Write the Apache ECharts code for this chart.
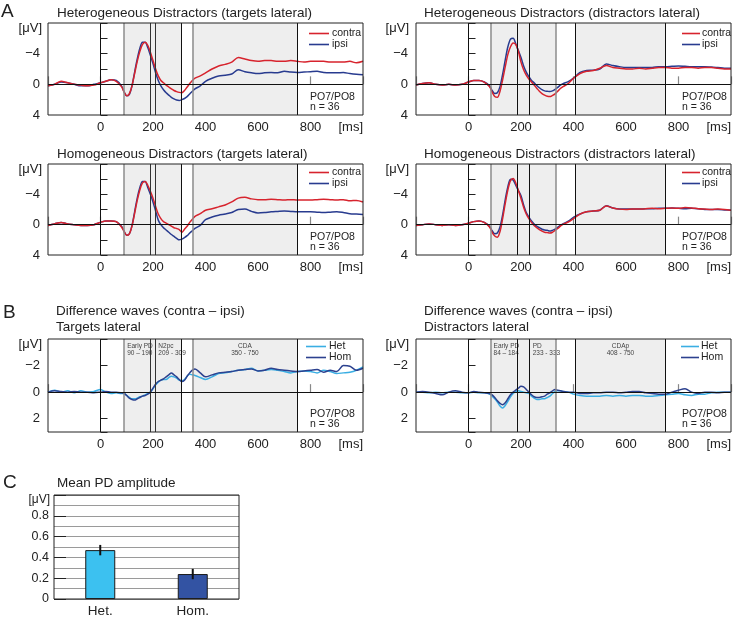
<!DOCTYPE html>
<html><head><meta charset="utf-8">
<script src="https://cdn.jsdelivr.net/npm/echarts@6/dist/echarts.min.js"></script>
<style>html,body{margin:0;padding:0;background:#fff}#c{width:734px;height:618px}</style>
</head><body><div id="c"></div>
<script>
const FONT = '"Liberation Sans", Arial, sans-serif';

// ---- time base (ms) ----
const times = [-200,-175,-150,-125,-100,-75,-50,-25,
  0,20,40,60,80,
  90,100,110,120,130,140,150,160,170,180,190,200,210,220,230,240,250,260,270,280,290,300,310,320,330,340,350,360,
  380,400,
  425,450,475,500,525,550,575,600,625,650,675,700,725,750,775,800,825,850,875,900,925,950,975,1000];

// ---- A: Heterogeneous, targets lateral ----
const hetTargContra = [0.2,0.0,-0.4,-0.2,0.0,0.1,0.2,0.1,
  -0.2,-0.4,-0.6,-0.4,0.3,
  1.0,1.5,1.2,0.2,-1.4,-3.0,-4.3,-5.2,-5.5,-5.1,-4.2,-3.1,-2.0,-1.1,-0.5,-0.2,0.1,0.35,0.6,0.8,0.95,1.05,1.1,0.8,0.35,-0.1,-0.5,-0.8,
  -1.1,-1.5,
  -2.0,-2.4,-2.6,-2.9,-3.5,-3.3,-3.1,-3.0,-3.1,-3.1,-3.0,-3.0,-3.1,-3.0,-2.9,-3.0,-3.0,-3.0,-2.9,-2.9,-2.9,-3.0,-2.8,-3.0];
const hetTargIpsi = [0.2,0.0,-0.3,-0.2,0.0,0.2,0.2,0.0,
  -0.2,-0.4,-0.6,-0.5,0.2,
  1.0,1.5,1.3,0.2,-1.6,-3.3,-4.7,-5.5,-5.5,-4.8,-3.8,-2.7,-1.5,-0.5,0.2,0.7,1.1,1.4,1.7,1.9,2.05,2.1,2.0,1.85,1.6,1.25,0.9,0.6,
  0.2,-0.4,
  -0.8,-1.1,-1.2,-1.35,-1.9,-1.65,-1.5,-1.4,-1.5,-1.55,-1.5,-1.7,-1.6,-1.55,-1.6,-1.65,-1.7,-1.55,-1.5,-1.5,-1.55,-1.4,-1.3,-1.25];

// ---- A: Heterogeneous, distractors lateral ----
const hetDistContra = [0.1,-0.1,-0.2,0.0,0.1,0.0,0.1,0.0,
  -0.3,-0.5,-0.5,-0.3,0.3,
  1.0,1.6,1.7,0.9,-0.6,-2.3,-3.9,-4.9,-5.4,-5.2,-4.3,-2.9,-1.9,-1.2,-0.7,-0.3,0.1,0.5,0.9,1.2,1.4,1.55,1.6,1.45,1.25,0.9,0.55,0.3,
  -0.1,-0.8,
  -1.4,-1.7,-1.8,-2.1,-2.45,-2.2,-2.1,-2.0,-2.0,-2.1,-2.0,-2.1,-2.2,-2.2,-2.1,-2.1,-2.2,-2.2,-2.1,-2.2,-2.2,-2.1,-2.0,-2.0];
const hetDistIpsi = [0.1,-0.1,-0.2,0.0,0.1,0.0,0.1,0.0,
  -0.3,-0.5,-0.5,-0.3,0.2,
  0.8,1.2,1.1,0.3,-1.3,-3.2,-4.9,-5.9,-6.0,-5.3,-4.4,-3.5,-2.4,-1.6,-1.0,-0.5,-0.2,0.15,0.45,0.7,0.85,0.9,0.95,0.85,0.65,0.4,0.1,-0.1,
  -0.35,-0.8,
  -1.55,-1.8,-1.85,-2.0,-2.65,-2.45,-2.3,-2.2,-2.2,-2.2,-2.2,-2.2,-2.3,-2.3,-2.35,-2.4,-2.35,-2.3,-2.3,-2.3,-2.25,-2.2,-2.1,-2.1];

// ---- A: Homogeneous, targets lateral ----
const homTargContra = [0.1,-0.1,-0.3,-0.1,0.0,0.1,0.1,0.0,
  -0.3,-0.5,-0.5,-0.4,0.3,
  0.9,1.4,1.2,0.2,-1.5,-3.2,-4.6,-5.5,-5.7,-5.2,-4.4,-3.5,-2.4,-1.4,-0.8,-0.4,-0.2,0.0,0.2,0.4,0.5,0.65,1.0,0.6,0.2,-0.3,-0.7,-1.1,
  -1.45,-1.9,
  -2.1,-2.35,-2.6,-3.0,-3.5,-3.6,-3.4,-3.3,-3.3,-3.35,-3.3,-3.25,-3.3,-3.25,-3.25,-3.25,-3.3,-3.35,-3.3,-3.25,-3.3,-3.15,-3.2,-3.0];
const homTargIpsi = [0.1,-0.1,-0.3,-0.1,0.0,0.1,0.1,0.0,
  -0.3,-0.5,-0.5,-0.4,0.2,
  0.9,1.4,1.2,0.1,-1.7,-3.5,-4.9,-5.7,-5.7,-4.9,-4.0,-3.0,-1.8,-0.6,0.0,0.4,0.7,1.0,1.3,1.55,1.8,2.0,1.9,1.7,1.45,1.1,0.8,0.5,
  0.1,-0.65,
  -1.0,-1.25,-1.4,-1.6,-2.0,-2.05,-1.75,-1.55,-1.6,-1.7,-1.75,-1.8,-1.75,-1.7,-1.7,-1.7,-1.65,-1.6,-1.65,-1.7,-1.6,-1.45,-1.4,-1.35];

// ---- A: Homogeneous, distractors lateral ----
const homDistContra = [0.1,0.0,-0.1,0.0,0.1,0.0,0.1,0.0,
  -0.2,-0.4,-0.5,-0.3,0.3,
  1.0,1.5,1.65,0.9,-0.8,-2.8,-4.6,-5.8,-6.1,-5.5,-4.5,-3.45,-2.3,-1.4,-0.8,-0.3,0.1,0.4,0.65,0.85,1.0,1.05,1.1,1.0,0.75,0.5,0.2,-0.05,
  -0.35,-0.8,
  -1.4,-1.7,-1.8,-1.9,-2.45,-2.2,-2.05,-2.0,-2.05,-2.05,-2.1,-2.15,-2.1,-2.15,-2.2,-2.15,-2.25,-2.2,-2.1,-2.05,-2.0,-2.05,-2.0,-1.9];
const homDistIpsi = [0.1,0.0,-0.1,0.0,0.1,0.0,0.1,0.0,
  -0.2,-0.4,-0.5,-0.3,0.2,
  0.8,1.2,1.1,0.3,-1.3,-3.3,-5.0,-6.0,-5.9,-5.2,-4.5,-3.8,-2.6,-1.6,-1.0,-0.5,-0.1,0.2,0.4,0.6,0.7,0.75,0.85,0.75,0.6,0.35,0.1,-0.1,
  -0.45,-0.95,
  -1.4,-1.7,-1.8,-1.9,-2.5,-2.2,-2.05,-2.05,-2.05,-2.05,-2.1,-2.1,-2.15,-2.15,-2.2,-2.15,-2.1,-2.15,-2.1,-2.0,-2.0,-2.0,-1.95,-1.9];

// ---- B: difference waves, targets lateral ----
const diffTargHet = [0.0,-0.15,0.0,-0.1,0.05,-0.1,0.0,-0.05,
  -0.2,0.0,0.1,0.05,0.1,
  0.1,0.25,0.4,0.5,0.5,0.45,0.35,0.3,0.2,0.1,0.0,-0.25,-0.55,-0.75,-0.9,-0.95,-0.95,-1.1,-1.2,-1.15,-1.05,-0.9,-0.85,-0.95,-1.2,-1.35,-1.3,-1.25,
  -1.1,-0.95,
  -1.15,-1.4,-1.45,-1.55,-1.65,-1.7,-1.8,-1.6,-1.65,-1.7,-1.65,-1.55,-1.45,-1.55,-1.6,-1.55,-1.45,-1.65,-1.55,-1.4,-1.45,-1.5,-1.65,-1.9];
const diffTargHom = [0.0,-0.1,-0.05,0.0,-0.05,0.0,0.0,0.05,
  0.0,-0.05,0.0,0.0,0.05,
  0.1,0.25,0.45,0.55,0.6,0.5,0.4,0.3,0.25,0.15,0.0,-0.3,-0.6,-0.8,-0.9,-1.0,-1.15,-1.3,-1.45,-1.3,-1.15,-0.95,-0.8,-0.9,-1.2,-1.45,-1.65,-1.75,
  -1.45,-1.15,
  -1.3,-1.45,-1.5,-1.55,-1.65,-1.7,-1.75,-1.6,-1.65,-1.8,-1.7,-1.65,-1.6,-1.55,-1.6,-1.65,-1.7,-1.5,-1.65,-1.55,-2.0,-1.95,-1.65,-1.8];

// ---- B: difference waves, distractors lateral ----
const diffDistHet = [0.0,0.0,0.05,0.0,0.05,0.0,0.0,0.05,
  0.05,0.0,0.05,0.05,0.15,
  0.3,0.5,0.75,1.05,1.2,1.0,0.7,0.35,0.1,-0.05,-0.1,-0.05,0.0,0.05,0.1,0.3,0.45,0.55,0.55,0.5,0.5,0.4,0.3,0.1,-0.05,-0.1,-0.1,-0.05,
  0.0,0.15,
  0.25,0.3,0.3,0.3,0.25,0.3,0.25,0.3,0.25,0.25,0.3,0.3,0.25,0.2,0.15,0.1,0.2,0.25,0.15,0.15,0.05,0.0,0.0,0.0];
const diffDistHom = [0.0,-0.05,0.0,0.1,0.2,0.0,-0.1,0.0,
  0.05,-0.05,0.0,0.05,0.1,
  0.2,0.4,0.65,0.85,0.95,0.8,0.5,0.2,0.0,-0.15,-0.3,-0.45,-0.4,-0.2,0.0,0.2,0.35,0.4,0.4,0.35,0.3,0.15,0.05,-0.1,-0.2,-0.15,-0.1,-0.05,
  0.0,0.0,
  0.1,0.1,0.05,0.05,0.0,0.0,0.05,0.0,-0.05,-0.05,0.05,0.1,0.15,0.15,0.0,-0.15,-0.25,0.0,0.1,0.0,0.0,0.05,0.0,0.0];

// ---- C: mean PD amplitude ----
const barCategories = ['Het.', 'Hom.'];
const barMeans = [0.47, 0.24];
const barErrLow = [0.42, 0.19];
const barErrHigh = [0.52, 0.29];

// ---- tick labels / window annotations ----
const waveTicksX = [0, 200, 400, 600, 800];
const targetsWindows = [[90, 190, 'Early PD\n90 – 190', 'insideTopLeft'], [209, 309, 'N2pc\n209 - 309', 'insideTopLeft'], [350, 750, 'CDA\n350 - 750', 'insideTop']];
const distractWindows = [[84, 184, 'Early PD\n84 – 184', 'insideTopLeft'], [233, 333, 'PD\n233 - 333', 'insideTopLeft'], [408, 750, 'CDAp\n408 - 750', 'insideTop']];
const targetsLines = [[0,'#111',1],[90,'#8c8c8c',1.5],[190,'#333',1],[209,'#333',1],[309,'#111',1],[350,'#8c8c8c',1.5],[750,'#111',1]];
const distractLines = [[0,'#111',1],[84,'#8c8c8c',1.5],[184,'#111',1],[233,'#111',1],[333,'#8c8c8c',1.5],[408,'#111',1],[750,'#111',1]];

// ---- layout ----
const grids = [
  {left:48, top:23, width:315, height:92},
  {left:416, top:23, width:315, height:92},
  {left:48, top:164, width:315, height:91},
  {left:416, top:164, width:315, height:91},
  {left:48, top:339, width:315, height:93},
  {left:416, top:339, width:315, height:93},
  {left:54, top:495, width:185, height:107}
];
const RED = '#d7232d', NAVY = '#283b8f', LIGHT = '#3aaee3', DARK = '#2c418f';

const minus = v => (v < 0 ? '\u2212' + Math.abs(v) : String(v));

const xAxes = [], yAxes = [], series = [];
for (let i = 0; i < 6; i++) {
  xAxes.push({
    type:'value', gridIndex:i, min:-200, max:1000, interval:200,
    axisLine:{show:false}, splitLine:{show:false},
    axisTick:{show:true, inside:true, length:8, lineStyle:{color:'#888', width:1.2}},
    axisLabel:{fontFamily:FONT, fontSize:13, color:'#222', margin:6, showMaxLabel:true, showMinLabel:true, alignMaxLabel:'right',
      formatter: v => v === 1000 ? '[ms]' : (waveTicksX.indexOf(v) >= 0 ? String(v) : '')}
  });
  const isB = i >= 4;
  yAxes.push({
    type:'value', gridIndex:i, inverse:true,
    min: isB ? -4 : -8, max: isB ? 3 : 4, interval:2,
    axisLine:{show:false}, splitLine:{show:false},
    axisTick:{show:true, inside:true, length:7, lineStyle:{color:'#222'}},
    axisLabel:{fontFamily:FONT, fontSize:13, color:'#222', margin:8, showMaxLabel:true, showMinLabel:true,
      formatter: v => {
        const shown = isB ? [-2,0,2] : [-4,0,4];
        return shown.indexOf(v) >= 0 ? minus(v) : '';
      }}
  });
}
// C axes
xAxes.push({type:'category', gridIndex:6, data:barCategories, axisLine:{show:false}, axisTick:{show:false},
  axisLabel:{fontFamily:FONT, fontSize:13.5, color:'#222', margin:5}});
yAxes.push({type:'value', gridIndex:6, min:0, max:1, interval:0.2,
  axisLine:{show:false},
  axisTick:{show:true, inside:true, length:12, lineStyle:{color:'#222'}},
  splitLine:{show:true, lineStyle:{color:'#9a9a9a'}},
  minorTick:{show:false, splitNumber:2},
  minorSplitLine:{show:true, lineStyle:{color:'#9a9a9a'}},
  axisLabel:{fontFamily:FONT, fontSize:12.5, color:'#222', margin:5, showMaxLabel:true,
    formatter: v => v >= 0.99 ? '' : (v === 0 ? '0' : v.toFixed(1))}});

function decor(gi, lines, windows, withLabels) {
  const areas = windows.map(w => [{xAxis:w[0], label:{show:withLabels, formatter:w[2], position:w[3]}}, {xAxis:w[1]}]);
  // narrow gap between early windows is shaded too
  areas.push([{xAxis:windows[0][1], label:{show:false}}, {xAxis:windows[1][0]}]);
  const ml = lines.map(l => ({xAxis:l[0], lineStyle:{color:l[1], width:l[2], type:'solid'}}));
  ml.push({yAxis:0, lineStyle:{color:'#111', width:1, type:'solid'}});
  return {
    type:'line', name:'_decor'+gi, xAxisIndex:gi, yAxisIndex:gi, data:[], z:1, silent:true, animation:false,
    markArea:{silent:true, itemStyle:{color:'#eeeeee'},
      label:{fontFamily:FONT, fontSize:6.5, lineHeight:7.5, color:'#444', distance:3}, data:areas},
    markLine:{silent:true, symbol:['none','none'], label:{show:false}, data:ml, animation:false}
  };
}
function wave(name, gi, vals, color) {
  return {type:'line', name, xAxisIndex:gi, yAxisIndex:gi, data: times.map((t, k) => [t, vals[k]]),
    smooth:0.3, symbol:'none', showSymbol:false, lineStyle:{color, width:1.5}, itemStyle:{color}, z:3, animation:false};
}

series.push(decor(0, targetsLines, targetsWindows, false));
series.push(decor(1, distractLines, distractWindows, false));
series.push(decor(2, targetsLines, targetsWindows, false));
series.push(decor(3, distractLines, distractWindows, false));
series.push(decor(4, targetsLines, targetsWindows, true));
series.push(decor(5, distractLines, distractWindows, true));

series.push(wave('ipsi', 0, hetTargIpsi, NAVY), wave('contra', 0, hetTargContra, RED));
series.push(wave('ipsi', 1, hetDistIpsi, NAVY), wave('contra', 1, hetDistContra, RED));
series.push(wave('ipsi', 2, homTargIpsi, NAVY), wave('contra', 2, homTargContra, RED));
series.push(wave('ipsi', 3, homDistIpsi, NAVY), wave('contra', 3, homDistContra, RED));
series.push(wave('Het', 4, diffTargHet, LIGHT), wave('Hom', 4, diffTargHom, DARK));
series.push(wave('Het', 5, diffDistHet, LIGHT), wave('Hom', 5, diffDistHom, DARK));

series.push({type:'bar', name:'Mean PD', xAxisIndex:6, yAxisIndex:6, barWidth:30, z:3, animation:false,
  data: barMeans.map((v, k) => ({value:v, itemStyle:{color: k === 0 ? '#3cc1f0' : '#3353a3', borderColor:'#1a1a1a', borderWidth:1}}))});
series.push({type:'custom', name:'SE', xAxisIndex:6, yAxisIndex:6, z:4, animation:false,
  encode:{x:0, y:[1,2]},
  data: barCategories.map((c, k) => [k, barErrLow[k], barErrHigh[k]]),
  renderItem: (params, api) => {
    const a = api.coord([api.value(0), api.value(1)]);
    const b = api.coord([api.value(0), api.value(2)]);
    return {type:'line', shape:{x1:a[0], y1:a[1], x2:b[0], y2:b[1]}, style:{stroke:'#111', lineWidth:2}};
  }});

const legendBase = {orient:'vertical', icon:'rect', itemWidth:20, itemHeight:1.6, itemGap:0, padding:0, selectedMode:false,
  textStyle:{fontFamily:FONT, fontSize:10.5, color:'#222', lineHeight:11, padding:[0,0,0,-2]}};
const legendRight = {itemWidth:18, textStyle:{fontFamily:FONT, fontSize:10.5, color:'#222', lineHeight:11, padding:[0,0,0,-3]}};
const legends = [
  Object.assign({}, legendBase, {left:309, top:28, data:['contra','ipsi']}),
  Object.assign({}, legendBase, legendRight, {left:682, top:28, data:['contra','ipsi']}),
  Object.assign({}, legendBase, {left:309, top:167, data:['contra','ipsi']}),
  Object.assign({}, legendBase, legendRight, {left:682, top:167, data:['contra','ipsi']}),
  Object.assign({}, legendBase, {left:306, top:341, data:['Het','Hom']}),
  Object.assign({}, legendBase, legendRight, {left:681, top:341, data:['Het','Hom']})
];

function txt(x, y, text, size, extra) {
  return Object.assign({type:'text', x, y, silent:true,
    style:{text, fontFamily:FONT, fontSize:size, fill:'#222', textVerticalAlign:'middle', verticalAlign:'middle'}}, extra || {});
}
function txtR(x, y, text, size) {
  const t = txt(x, y, text, size); t.style.align = 'right'; t.style.textAlign = 'right'; return t;
}
const graphics = [
  txt(1, 12, 'A', 19), txt(3, 313, 'B', 19), txt(3, 483, 'C', 19),
  txt(57, 13, 'Heterogeneous Distractors (targets lateral)', 13.5),
  txt(424, 13, 'Heterogeneous Distractors (distractors lateral)', 13.5),
  txt(57, 154, 'Homogeneous Distractors (targets lateral)', 13.5),
  txt(424, 154, 'Homogeneous Distractors (distractors lateral)', 13.5),
  txt(56, 311, 'Difference waves (contra \u2013 ipsi)', 13.5), txt(56, 327, 'Targets lateral', 13.5),
  txt(424, 311, 'Difference waves (contra \u2013 ipsi)', 13.5), txt(424, 327, 'Distractors lateral', 13.5),
  txt(57, 483, 'Mean PD amplitude', 13.5),
  txtR(42, 28, '[\u03bcV]', 13), txtR(409, 28, '[\u03bcV]', 13),
  txtR(42, 169, '[\u03bcV]', 13), txtR(409, 169, '[\u03bcV]', 13),
  txtR(42, 344, '[\u03bcV]', 13), txtR(409, 344, '[\u03bcV]', 13),
  txtR(50, 500, '[\u03bcV]', 12),
  txt(310, 97, 'PO7/PO8', 10.5), txt(310, 107, 'n = 36', 10.5),
  txt(682, 97, 'PO7/PO8', 10.5), txt(682, 107, 'n = 36', 10.5),
  txt(310, 237, 'PO7/PO8', 10.5), txt(310, 247, 'n = 36', 10.5),
  txt(682, 237, 'PO7/PO8', 10.5), txt(682, 247, 'n = 36', 10.5),
  txt(310, 414, 'PO7/PO8', 10.5), txt(310, 424, 'n = 36', 10.5),
  txt(682, 414, 'PO7/PO8', 10.5), txt(682, 424, 'n = 36', 10.5)
];

const chart = echarts.init(document.getElementById('c'), null, {renderer:'canvas'});
chart.setOption({
  backgroundColor:'#fff',
  animation:false,
  grid: grids.map(g => Object.assign({show:true, z:10, borderColor:'#222', borderWidth:1, backgroundColor:'transparent'}, g)),
  xAxis: xAxes, yAxis: yAxes, legend: legends, graphic: graphics, series
});
</script></body></html>
